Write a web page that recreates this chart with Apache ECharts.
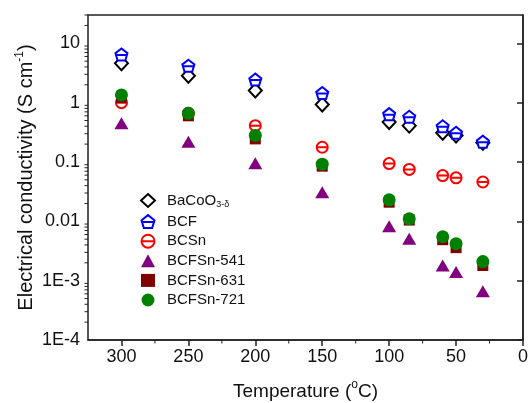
<!DOCTYPE html>
<html>
<head>
<meta charset="utf-8">
<script src="https://cdn.jsdelivr.net/npm/echarts@6/dist/echarts.min.js"></script>
<style>
  html, body { margin: 0; padding: 0; background: #fff; }
  #chart { width: 528px; height: 403px; }
</style>
</head>
<body>
<div id="chart"></div>
<script>
// Measurement temperatures (°C)
const temps = [300, 250, 200, 150, 100, 85, 60, 50, 30];

// Electrical conductivity (S cm^-1) for each composition
const baCoO = [4.6, 2.85, 1.6, 0.93, 0.47, 0.41, 0.31, 0.28, 0.21];
const bcf = [6.5, 4.2, 2.45, 1.45, 0.64, 0.58, 0.40, 0.31, 0.22];
const bcsn = [1.0, 0.66, 0.41, 0.177, 0.094, 0.075, 0.059, 0.054, 0.046];
const bcfsn541 = [0.45, 0.22, 0.095, 0.031, 0.0083, 0.0051, 0.0018, 0.0014, 0.00066];
const bcfsn631 = [1.22, 0.60, 0.245, 0.085, 0.021, 0.0105, 0.0049, 0.0036, 0.0018];
const bcfsn721 = [1.35, 0.66, 0.28, 0.092, 0.023, 0.011, 0.0055, 0.0042, 0.0021];

const seriesNames = ['BaCoO3-δ', 'BCF', 'BCSn', 'BCFSn-541', 'BCFSn-631', 'BCFSn-721'];

// Axis ticks and labels
const xTicks = [0, 50, 100, 150, 200, 250, 300];
const xMinorTicks = [25, 75, 125, 175, 225, 275];
const yTicks = [1e-4, 1e-3, 0.01, 0.1, 1, 10];
const yTickLabels = ['1E-4', '1E-3', '0.01', '0.1', '1', '10'];

const X_MIN = 0, X_MAX = 325;
const Y_MIN = 1e-4, Y_MAX = 30;

// log-spaced minor ticks (2..9 within each decade)
const yMinorTicks = [];
for (let e = -4; e <= 1; e++) {
  for (let m = 2; m <= 9; m++) {
    const v = m * Math.pow(10, e);
    if (v <= Y_MAX) yMinorTicks.push(v);
  }
}

const FONT = 'Liberation Sans, Arial, sans-serif';

function pair(ys) { return temps.map((t, i) => [t, ys[i]]); }

const hollow = (col) => ({ color: '#fff', borderColor: col, borderWidth: 2, opacity: 1 });
const solid = (col) => ({ color: col, opacity: 1 });

const pentagonBar = 'path://M5,0 L10,4 L8.2,10 L1.8,10 L0,4 Z M0.6,5.4 L9.4,5.4';
const circleBar = 'path://M0,5 A5,5 0 1,1 10,5 A5,5 0 1,1 0,5 Z M0,5 L10,5';

const chart = echarts.init(document.getElementById('chart'), null, { renderer: 'canvas' });

chart.setOption({
  animation: false,
  backgroundColor: '#fff',
  textStyle: { fontFamily: FONT },
  grid: {
    left: 88, right: 5, top: 15, bottom: 63,
    outerBoundsMode: 'none', containLabel: false,
    show: true, borderColor: '#222', borderWidth: 1.5, backgroundColor: 'transparent'
  },
  legend: {
    orient: 'vertical',
    left: 135, top: 188,
    itemWidth: 14, itemHeight: 13, itemGap: 4.6,
    data: seriesNames,
    textStyle: {
      fontFamily: FONT, fontSize: 15, color: '#111', padding: [0, 0, 0, 7],
      rich: {
        n: { fontFamily: FONT, fontSize: 15, color: '#111' },
        s: { fontFamily: FONT, fontSize: 9, color: '#111', padding: [9, 0, 0, 0] }
      }
    },
    formatter: (name) => name === 'BaCoO3-δ' ? '{n|BaCoO}{s|3-δ}' : name
  },
  xAxis: {
    type: 'value',
    inverse: true,
    min: X_MIN, max: X_MAX, interval: 50,
    name: '{a|Temperature (}{sup|o}{a|C)}',
    nameLocation: 'middle', nameGap: 39,
    nameTextStyle: {
      rich: {
        a: { fontFamily: FONT, fontSize: 19, color: '#111' },
        sup: { fontFamily: FONT, fontSize: 12, color: '#111', padding: [0, 0, 14, 0] }
      }
    },
    axisLine: { show: true, lineStyle: { color: '#222', width: 1.5 } },
    axisTick: { show: true, length: 6, lineStyle: { color: '#222', width: 1.5 }, customValues: xTicks },
    axisLabel: { fontFamily: FONT, fontSize: 18, color: '#111', margin: 8, customValues: xTicks },
    splitLine: { show: false }
  },
  yAxis: {
    type: 'log', logBase: 10,
    min: Y_MIN, max: Y_MAX,
    name: '{a|Electrical conductivity (S cm}{sup|-1}{a|)}',
    nameLocation: 'middle', nameGap: 50, nameMoveOverlap: false,
    nameTextStyle: {
      rich: {
        a: { fontFamily: FONT, fontSize: 20, color: '#111' },
        sup: { fontFamily: FONT, fontSize: 12, color: '#111', padding: [0, 0, 12, 0] }
      }
    },
    axisLine: { show: true, lineStyle: { color: '#222', width: 1.5 } },
    axisTick: { show: true, length: 6, lineStyle: { color: '#222', width: 1.5 }, customValues: yTicks },
    axisLabel: {
      fontFamily: FONT, fontSize: 18, color: '#111', margin: 8, customValues: yTicks,
      formatter: (v) => {
        const idx = Math.round(Math.log10(v)) + 4;
        return yTickLabels[idx] !== undefined ? yTickLabels[idx] : '';
      }
    },
    splitLine: { show: false }
  },
  series: [
    {
      type: 'custom', name: 'yMinor', silent: true, clip: false, z: 1,
      data: yMinorTicks.map(v => [X_MAX, v]),
      renderItem: (params, api) => {
        const p = api.coord([api.value(0), api.value(1)]);
        return { type: 'line', shape: { x1: p[0] - 3.5, y1: p[1], x2: p[0], y2: p[1] },
                 style: { stroke: '#222', lineWidth: 1 } };
      }
    },
    {
      type: 'custom', name: 'xMinor', silent: true, clip: false, z: 1,
      data: xMinorTicks.map(v => [v, Y_MIN]),
      renderItem: (params, api) => {
        const p = api.coord([api.value(0), api.value(1)]);
        return { type: 'line', shape: { x1: p[0], y1: p[1], x2: p[0], y2: p[1] + 3.5 },
                 style: { stroke: '#222', lineWidth: 1 } };
      }
    },
    {
      name: seriesNames[0], type: 'scatter', data: pair(baCoO),
      symbol: 'diamond', symbolSize: [13, 14], itemStyle: hollow('#000')
    },
    {
      name: seriesNames[1], type: 'scatter', data: pair(bcf),
      symbol: pentagonBar, symbolSize: [12, 12], itemStyle: hollow('#0000ff')
    },
    {
      name: seriesNames[2], type: 'scatter', data: pair(bcsn),
      symbol: circleBar, symbolSize: [11, 11], itemStyle: hollow('#ff0000')
    },
    {
      name: seriesNames[3], type: 'scatter', data: pair(bcfsn541),
      symbol: 'triangle', symbolSize: [14, 12], itemStyle: solid('#800080')
    },
    {
      name: seriesNames[4], type: 'scatter', data: pair(bcfsn631),
      symbol: 'rect', symbolSize: [11, 11], itemStyle: solid('#800000')
    },
    {
      name: seriesNames[5], type: 'scatter', data: pair(bcfsn721),
      symbol: 'circle', symbolSize: [13, 13], itemStyle: solid('#008000')
    }
  ]
});
</script>
</body>
</html>
